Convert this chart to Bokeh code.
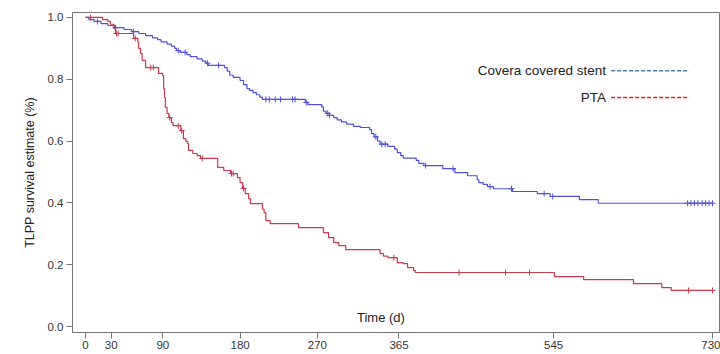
import numpy as np
from bokeh.plotting import figure
from bokeh.models import Range1d, FixedTicker, Label, CustomJSTickFormatter
from bokeh.embed import file_html
from bokeh.resources import INLINE

# ---- data ----
blue_name = "Covera covered stent"
red_name = "PTA"

blue_time = [0, 4, 10, 18, 26, 34, 45, 54, 62, 70, 78, 84, 88, 95, 100, 104, 106, 110, 118, 122,
             130, 136, 140, 143, 162, 165, 168, 172, 180, 184, 188, 191, 195, 199, 203, 206, 256, 259, 275, 277,
             280, 284, 289, 293, 298, 304, 312, 320, 331, 333, 336, 340, 343, 352, 360, 363, 367, 370, 385, 388,
             394, 416, 430, 445, 456, 458, 463, 468, 475, 497, 526, 541, 575, 597]
blue_surv = [1.0, .993, .987, .980, .974, .967, .961, .954, .948, .941, .934, .928, .921, .914, .907, .900, .893, .887, .880, .873,
             .866, .859, .852, .845, .838, .826, .813, .806, .796, .783, .770, .764, .757, .750, .742, .735, .725, .718, .711, .697,
             .690, .683, .676, .669, .662, .655, .648, .644, .637, .624, .614, .600, .590, .583, .574, .563, .553, .545, .538, .528,
             .521, .511, .498, .488, .475, .466, .460, .453, .446, .437, .430, .421, .411, .399]
blue_cens = [14, 35, 56, 108, 116, 142, 155, 210, 214, 221, 227, 241, 244, 257, 282, 284, 338, 345, 349,
             396, 428, 471, 496, 534, 544, 701, 705, 709, 713, 718, 722, 726, 730]

red_time = [0, 20, 26, 29, 33, 35, 56, 61, 62, 64, 66, 70, 85, 90, 91, 92, 93, 95, 97, 100,
            102, 111, 114, 117, 119, 120, 125, 130, 134, 154, 161, 169, 177, 180, 183, 186, 190, 192, 206, 208,
            210, 215, 248, 277, 283, 289, 295, 303, 343, 347, 352, 363, 370, 375, 382, 384, 546, 580, 638, 671, 682]
red_surv = [1.0, .993, .987, .978, .964, .948, .932, .919, .900, .884, .861, .838, .819, .812, .770, .741, .709, .690, .676, .660,
            .650, .634, .608, .599, .592, .570, .560, .553, .544, .515, .505, .495, .482, .466, .447, .430, .414, .398, .380, .369,
            .343, .333, .320, .304, .288, .272, .262, .249, .236, .228, .223, .207, .204, .191, .181, .175, .162, .152, .139, .126, .117]
red_cens = [6, 36, 38, 58, 76, 79, 98, 108, 112, 136, 170, 172, 184, 359, 435, 489, 517, 702, 730]

x_ticks = [0, 30, 90, 180, 270, 365, 545, 730]
y_ticks = [0.0, 0.2, 0.4, 0.6, 0.8, 1.0]
y_title = "TLPP survival estimate (%)"
x_title = "Time (d)"
end_day = 730

BLUE = "#5050dc"
RED = "#c93a50"
LEG_BLUE = "#4d7ea6"
LEG_RED = "#e0202c"
FONT = "Liberation Sans"


def at(times, surv, t):
    idx = np.searchsorted(np.asarray(times), np.asarray(t), side="right") - 1
    return np.asarray(surv)[idx]


p = figure(width=720, height=354, output_backend="svg", toolbar_location=None,
           x_range=Range1d(-15.1, 739.3), y_range=Range1d(-0.019, 1.016),
           min_border_left=72, min_border_right=0, min_border_top=12, min_border_bottom=22)
p.background_fill_color = "white"
p.border_fill_color = "white"
p.outline_line_color = "#777777"
p.outline_line_width = 1
p.xgrid.visible = False
p.ygrid.visible = False

for ax in (p.xaxis[0], p.yaxis[0]):
    ax.axis_line_color = "#777777"
    ax.major_tick_line_color = "#777777"
    ax.minor_tick_line_color = None
    ax.major_tick_in = 0
    ax.major_label_text_font = FONT
    ax.major_label_text_font_size = "11.5px"
    ax.major_label_text_color = "#333333"

p.xaxis.ticker = FixedTicker(ticks=x_ticks)
p.xaxis.major_tick_out = 6
p.xaxis.major_label_standoff = 2
p.yaxis.ticker = FixedTicker(ticks=y_ticks)
p.yaxis.major_tick_out = 6
p.yaxis.major_label_standoff = 3
p.yaxis.formatter = CustomJSTickFormatter(code="return tick.toFixed(1);")
p.yaxis.axis_label = y_title
p.yaxis.axis_label_text_font = FONT
p.yaxis.axis_label_text_font_style = "normal"
p.yaxis.axis_label_text_font_size = "12.5px"
p.yaxis.axis_label_text_color = "#222222"
p.yaxis.axis_label_standoff = 8

# curves
bx = list(blue_time) + [end_day]
by = list(blue_surv) + [blue_surv[-1]]
rx = list(red_time) + [end_day]
ry = list(red_surv) + [red_surv[-1]]
p.step(bx, by, mode="after", line_color=BLUE, line_width=1.2)
p.step(rx, ry, mode="after", line_color=RED, line_width=1.2)

p.scatter(blue_cens, at(blue_time, blue_surv, blue_cens), marker="cross", size=6,
          line_color=BLUE, line_width=1)
p.scatter(red_cens, at(red_time, red_surv, red_cens), marker="cross", size=6,
          line_color=RED, line_width=1)

# legend (drawn manually)
p.add_layout(Label(x=606, y=0.828, text=blue_name, text_align="right", text_baseline="middle",
                   text_font=FONT, text_font_size="13.5px", text_color="#222222"))
p.add_layout(Label(x=606, y=0.741, text=red_name, text_align="right", text_baseline="middle",
                   text_font=FONT, text_font_size="13.5px", text_color="#222222"))
p.line([612, 703], [0.828, 0.828], line_color=LEG_BLUE, line_width=1.5, line_dash="4 2")
p.line([612, 703], [0.741, 0.741], line_color=LEG_RED, line_width=1.5, line_dash="4 2")

# x axis title inside the plot
p.add_layout(Label(x=344, y=0.03, text=x_title, text_align="center", text_baseline="middle",
                   text_font=FONT, text_font_size="13px", text_color="#222222"))

open("out.html", "w").write(file_html(p, INLINE))
